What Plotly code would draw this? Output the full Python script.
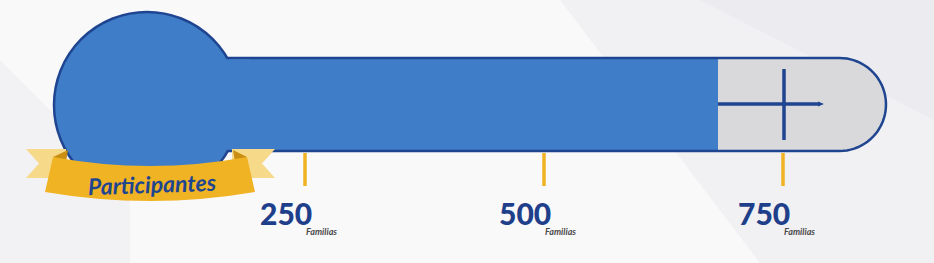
import numpy as np
import plotly.graph_objects as go

# ---- data ----
tick_values = [250, 500, 750]
tick_labels = ["250", "500", "750"]
unit_label = "Familias"
participants_value = 682
banner_text = "Participantes"

# ---- layout constants (pixel geometry) ----
W, H = 934, 263
PX_PER_UNIT = 0.956
PX_AT_250 = 305


def X(px):
    """pixel x -> data units"""
    return (px - PX_AT_250) / PX_PER_UNIT + 250


BLUE = "#3f7dc8"
DARK = "#1f4591"
GOLD = "#f0b323"
GOLD_LIGHT = "#f7d98a"
GRAY = "#d9d9db"

tube_top, tube_bot = 58, 151
tube_mid = (tube_top + tube_bot) / 2
tube_r = (tube_bot - tube_top) / 2
tube_left_px, tube_right_px = 222, 886
bulb_cx, bulb_cy, bulb_r = 147, 105, 93

fig = go.Figure()

# filled bar (blue), drawn via data value
bar_base = X(200)
fig.add_trace(go.Bar(
    x=[participants_value - bar_base], base=[bar_base], y=[tube_mid],
    orientation="h", width=tube_bot - tube_top,
    marker=dict(color=BLUE, line=dict(width=0)),
    hoverinfo="skip", showlegend=False,
))

shapes = []

# background shading (subtle diagonal streaks)
shapes.append(dict(type="path", xref="x", yref="y", layer="below",
                   path=f"M {X(560)},0 L {X(934)},0 L {X(934)},263 L {X(760)},263 Z",
                   fillcolor="rgba(225,225,232,0.35)", line=dict(width=0)))
shapes.append(dict(type="path", xref="x", yref="y", layer="below",
                   path=f"M {X(700)},0 L {X(934)},0 L {X(934)},120 Z",
                   fillcolor="rgba(225,225,232,0.3)", line=dict(width=0)))
shapes.append(dict(type="path", xref="x", yref="y", layer="below",
                   path=f"M {X(0)},60 L {X(0)},263 L {X(130)},263 L {X(130)},190 Z",
                   fillcolor="rgba(225,225,232,0.3)", line=dict(width=0)))


def tube_path():
    cx = tube_right_px - tube_r
    ang = np.linspace(-np.pi / 2, np.pi / 2, 40)
    pts = [f"M {X(tube_left_px)},{tube_top}", f"L {X(cx)},{tube_top}"]
    for a in ang:
        pts.append(f"L {X(cx + tube_r * np.cos(a))},{tube_mid + tube_r * np.sin(a)}")
    pts.append(f"L {X(tube_left_px)},{tube_bot}")
    return " ".join(pts)


# gray tube background (below the bar)
shapes.append(dict(type="path", xref="x", yref="y", layer="below",
                   path=tube_path() + " Z", fillcolor=GRAY, line=dict(width=0)))
# tube outline (above bar)
shapes.append(dict(type="path", xref="x", yref="y", layer="above",
                   path=tube_path(), fillcolor="rgba(0,0,0,0)",
                   line=dict(color=DARK, width=2.5)))
# bulb
shapes.append(dict(type="circle", xref="x", yref="y", layer="above",
                   x0=X(bulb_cx - bulb_r), x1=X(bulb_cx + bulb_r),
                   y0=bulb_cy - bulb_r, y1=bulb_cy + bulb_r,
                   fillcolor=BLUE, line=dict(color=DARK, width=2.5)))
# cover the seam between bulb and tube
shapes.append(dict(type="rect", xref="x", yref="y", layer="above",
                   x0=X(205), x1=X(250), y0=tube_top + 1.3, y1=tube_bot - 1.3,
                   fillcolor=BLUE, line=dict(width=0)))

# plus sign marker
shapes.append(dict(type="line", xref="x", yref="y", layer="above",
                   x0=participants_value, x1=X(820), y0=104, y1=104,
                   line=dict(color=DARK, width=3.5)))
shapes.append(dict(type="path", xref="x", yref="y", layer="above",
                   path=f"M {X(818)},101.5 L {X(824)},104 L {X(818)},106.5 Z",
                   fillcolor=DARK, line=dict(width=0)))
shapes.append(dict(type="line", xref="x", yref="y", layer="above",
                   x0=750 + 1 / PX_PER_UNIT, x1=750 + 1 / PX_PER_UNIT, y0=69, y1=140,
                   line=dict(color=DARK, width=3.5)))

# gold ticks
for v in tick_values:
    shapes.append(dict(type="line", xref="x", yref="y", layer="below",
                       x0=v, x1=v, y0=153, y1=186,
                       line=dict(color=GOLD, width=3.5)))

# ribbon tails
shapes.append(dict(type="path", xref="x", yref="y", layer="above",
                   path=f"M {X(26)},149 L {X(66)},149 L {X(66)},178 L {X(26)},178 L {X(39)},163.5 Z",
                   fillcolor=GOLD_LIGHT, line=dict(width=0)))
shapes.append(dict(type="path", xref="x", yref="y", layer="above",
                   path=f"M {X(232)},149 L {X(275)},149 L {X(262)},163.5 L {X(275)},178 L {X(232)},178 Z",
                   fillcolor=GOLD_LIGHT, line=dict(width=0)))
# folds
shapes.append(dict(type="path", xref="x", yref="y", layer="above",
                   path=f"M {X(53)},157 L {X(68)},150 L {X(66)},162 Z",
                   fillcolor="#c98f12", line=dict(width=0)))
shapes.append(dict(type="path", xref="x", yref="y", layer="above",
                   path=f"M {X(247)},157 L {X(233)},150 L {X(235)},162 Z",
                   fillcolor="#c98f12", line=dict(width=0)))
# ribbon band
shapes.append(dict(type="path", xref="x", yref="y", layer="above",
                   path=(f"M {X(53)},157 Q {X(150)},175 {X(247)},157 "
                         f"L {X(255)},192 Q {X(150)},210 {X(45)},192 Z"),
                   fillcolor=GOLD, line=dict(width=0)))

annotations = [dict(
    x=X(152), y=184, xref="x", yref="y", text=banner_text, showarrow=False,
    font=dict(family="Lato", size=23, color=DARK, style="italic", weight="bold"),
    xanchor="center", yanchor="middle", textangle=-2,
)]
for v, lab in zip(tick_values, tick_labels):
    annotations.append(dict(
        x=v, y=213, xref="x", yref="y", text=lab, showarrow=False,
        font=dict(family="Lato", size=30, color="#1f3f8a", weight=900),
        xanchor="right", yanchor="middle", xshift=9,
    ))
    annotations.append(dict(
        x=v, y=231, xref="x", yref="y", text=unit_label, showarrow=False,
        font=dict(family="Lato", size=9, color="#4a4a4a", style="italic", weight="bold"),
        xanchor="left", yanchor="middle", xshift=-1,
    ))

fig.update_layout(
    width=W, height=H, margin=dict(l=0, r=0, t=0, b=0),
    paper_bgcolor="#f9f9fa", plot_bgcolor="rgba(0,0,0,0)",
    xaxis=dict(range=[X(0), X(W)], visible=False, fixedrange=True),
    yaxis=dict(range=[H, 0], visible=False, fixedrange=True),
    shapes=shapes, annotations=annotations, showlegend=False,
    bargap=0,
)

fig.write_html("out.html")
